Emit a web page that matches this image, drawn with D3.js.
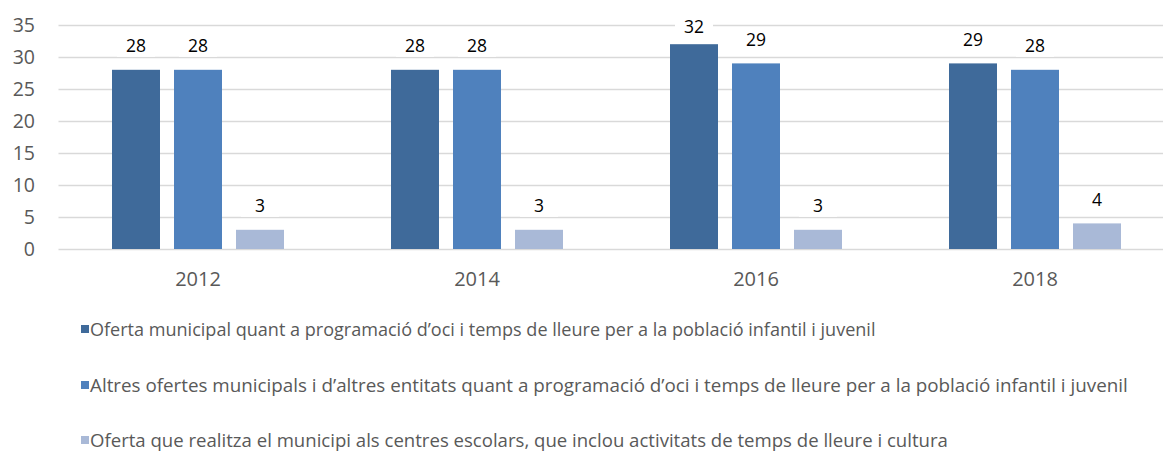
<!DOCTYPE html>
<html>
<head>
<meta charset="utf-8">
<script src="https://cdn.jsdelivr.net/npm/d3@7"></script>
<style>
  body { margin: 0; background: #fff; }
  svg { display: block; font-family: "Open Sans", sans-serif; }
</style>
</head>
<body>
<svg id="chart" width="1163" height="453"></svg>
<script>
var years = ['2012', '2014', '2016', '2018'];
var seriesNames = [
  'Oferta municipal quant a programació d\u2019oci i temps de lleure per a la població infantil i juvenil',
  'Altres ofertes municipals i d\u2019altres entitats quant a programació d\u2019oci i temps de lleure per a la població infantil i juvenil',
  'Oferta que realitza el municipi als centres escolars, que inclou activitats de temps de lleure i cultura'
];
var municipal = [28, 28, 32, 29];
var altres = [28, 28, 29, 28];
var escolars = [3, 3, 3, 4];
var yTicks = [0, 5, 10, 15, 20, 25, 30, 35];

var colors = ['#3f6a9a', '#4f81bd', '#a9b9d7'];
var series = [municipal, altres, escolars];

var svg = d3.select('#chart');
var plotLeft = 58.5, plotRight = 1174.5, plotTop = 25, plotBottom = 249;

var x = d3.scaleBand().domain(years).range([plotLeft, plotRight]);
var inner = d3.scaleBand().domain([0, 1, 2]).range([53.5, 279 - 53.5]).paddingInner(14 / 62);
var y = d3.scaleLinear().domain([0, 35]).range([plotBottom, plotTop]);

// gridlines
svg.append('g')
    .selectAll('line')
    .data(yTicks)
    .enter()
    .append('line')
    .attr('x1', plotLeft)
    .attr('x2', plotRight)
    .attr('y1', function(d) { return Math.round(y(d)) + 0.5; })
    .attr('y2', function(d) { return Math.round(y(d)) + 0.5; })
    .attr('stroke', '#d9d9d9')
    .attr('stroke-width', 1.5);

// y labels
svg.append('g')
    .selectAll('text')
    .data(yTicks)
    .enter()
    .append('text')
    .attr('x', 35)
    .attr('y', function(d) { return y(d); })
    .attr('dy', '0.36em')
    .attr('text-anchor', 'end')
    .attr('fill', '#595959')
    .attr('font-size', 19.5)
    .text(function(d) { return d; });

// bars
var cells = [];
years.forEach(function(yr, i) {
  series.forEach(function(s, k) {
    cells.push({ year: yr, k: k, v: s[i] });
  });
});

svg.append('g')
    .selectAll('rect')
    .data(cells)
    .enter()
    .append('rect')
    .attr('x', function(d) { return x(d.year) + inner(d.k); })
    .attr('width', inner.bandwidth())
    .attr('y', function(d) { return y(d.v); })
    .attr('height', function(d) { return y(0) - y(d.v); })
    .attr('fill', function(d) { return colors[d.k]; });

// data labels with white boxes
var lab = svg.append('g')
    .selectAll('g')
    .data(cells)
    .enter()
    .append('g')
    .attr('transform', function(d) {
      var cx = x(d.year) + inner(d.k) + inner.bandwidth() / 2;
      var cy = Math.max(y(d.v) - 24, 27);
      return 'translate(' + cx + ',' + cy + ')';
    });
lab.append('rect')
    .attr('x', -19)
    .attr('y', -11)
    .attr('width', 38)
    .attr('height', 22)
    .attr('fill', '#fff');
lab.append('text')
    .attr('text-anchor', 'middle')
    .attr('dy', '0.36em')
    .attr('font-size', 17.5)
    .attr('fill', '#000')
    .text(function(d) { return d.v; });

// x labels
svg.append('g')
    .selectAll('text')
    .data(years)
    .enter()
    .append('text')
    .attr('x', function(d) { return x(d) + x.bandwidth() / 2; })
    .attr('y', 279)
    .attr('dy', '0.36em')
    .attr('text-anchor', 'middle')
    .attr('fill', '#595959')
    .attr('font-size', 20)
    .text(function(d) { return d; });

// legend
var legendY = [329, 385, 440];
var legendW = [786, 1038, 858];
var leg = svg.append('g')
    .selectAll('g')
    .data(seriesNames)
    .enter()
    .append('g')
    .attr('transform', function(d, i) { return 'translate(81,' + legendY[i] + ')'; });
leg.append('rect')
    .attr('x', 0)
    .attr('y', -4)
    .attr('width', 8)
    .attr('height', 8)
    .attr('fill', function(d, i) { return colors[i]; });
leg.append('text')
    .attr('x', 9)
    .attr('dy', '0.36em')
    .attr('fill', '#595959')
    .attr('font-size', 16)
    .text(function(d) { return d; })
    .each(function(d, i) {
      var w = this.getComputedTextLength();
      d3.select(this).attr('font-size', 16 * legendW[i] / w);
    });
</script>
</body>
</html>
